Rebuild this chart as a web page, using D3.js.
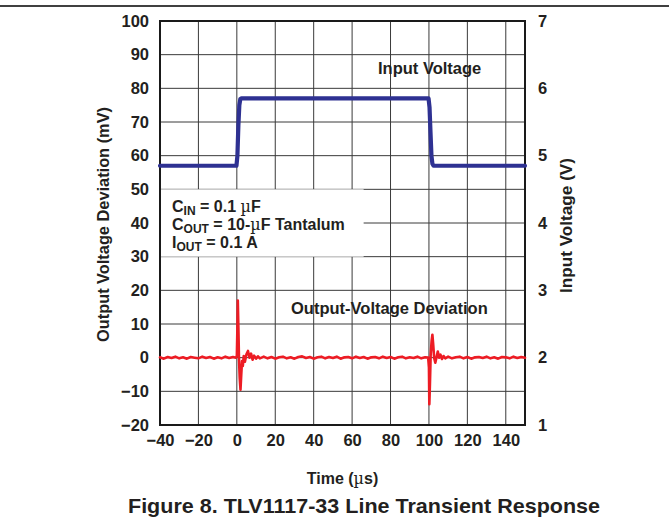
<!DOCTYPE html>
<html>
<head>
<meta charset="utf-8">
<script src="https://cdn.jsdelivr.net/npm/d3@7"></script>
<style>
  body { margin: 0; background: #fff; }
  text { font-family: "Liberation Sans", Arial, sans-serif; font-weight: bold; fill: #231f20; }
</style>
</head>
<body>
<div id="chart"></div>
<script>
// ticks
const timeTicks = [-40, -20, 0, 20, 40, 60, 80, 100, 120, 140];
const mvTicks = [-20, -10, 0, 10, 20, 30, 40, 50, 60, 70, 80, 90, 100];
const voltTicks = [1, 2, 3, 4, 5, 6, 7];

// input voltage (V) vs time (us)
const inTime = [-40, -0.2, 0.3, 0.8, 1.3, 1.8, 2.4, 99.8, 100.3, 100.8, 101.3, 101.8, 102.4, 150];
const inVolt = [4.85, 4.85, 5.0, 5.45, 5.75, 5.84, 5.85, 5.85, 5.72, 5.35, 5.0, 4.88, 4.85, 4.85];

// output voltage deviation (mV) vs time (us)
const outTime = [-40, -38, -36, -34, -32, -30, -28, -26, -24, -22, -20, -18, -16, -14, -12, -10, -8, -6, -4, -2, -0.5,
  0, 0.3, 0.5, 0.8, 1.1, 1.5, 1.9, 2.3, 2.7, 3.1, 3.6, 4.2, 5, 5.8, 6.6, 7.4, 8.2, 9, 10, 11, 12,
  14, 16, 18, 20, 22, 24, 26, 28, 30, 32, 34, 36, 38, 40, 42, 44, 46, 48, 50, 52, 54, 56, 58, 60,
  62, 64, 66, 68, 70, 72, 74, 76, 78, 80, 82, 84, 86, 88, 90, 92, 94, 96, 98, 99.6,
  100, 100.2, 100.5, 100.9, 101.4, 101.8, 102.2, 102.7, 103.3, 103.9, 104.6, 105.3, 106, 106.8, 107.6, 108.5,
  110, 112, 114, 116, 118, 120, 122, 124, 126, 128, 130, 132, 134, 136, 138, 140, 142, 144, 146, 148, 150];
const outDev = [0.1, -0.3, 0.2, -0.1, 0.3, -0.2, 0.1, -0.3, 0.2, 0, -0.2, 0.3, -0.1, 0.2, -0.3, 0.1, -0.2, 0.3, -0.1, 0.2, 0,
  0.5, 9, 17, 9, 0, -6, -9.5, -5, -1, -2.5, 0.5, -1.2, 1, 2, 0, 1.2, -0.6, 0.6, -0.3, 0.4, -0.2,
  0.3, -0.2, 0.2, -0.3, 0.1, 0.3, -0.2, 0.1, -0.3, 0.2, 0.4, -0.1, 0.2, -0.3, 0.1, 0.3, -0.2, 0.2, -0.1, 0.3, -0.3, 0.1, 0.2, -0.2,
  0.3, -0.1, 0.2, -0.3, 0.1, 0.2, -0.2, 0.3, -0.1, 0.2, -0.3, 0.1, 0.3, -0.2, 0.1, -0.1, 0.3, -0.2, 0.1, 0,
  -3, -13.8, -8, 1, 5, 6.8, 4, 0, -1.5, 0, 1.8, 0, 0.9, -0.4, 0.5, -0.2,
  0.3, -0.2, 0.1, 0.3, -0.2, 0.2, -0.3, 0.1, 0.2, -0.1, 0.3, -0.2, 0.1, -0.3, 0.2, 0.1, -0.2, 0.3, -0.1, 0.2, 0];

const W = 669, H = 527;
const pLeft = 160, pRight = 525, pTop = 21, pBottom = 425;
const fs = 16.5;

let svg = d3.select('#chart').append('svg')
  .attr('width', W)
  .attr('height', H);

// rule at the top of the page
svg.append('line')
  .attr('x1', 0).attr('x2', W)
  .attr('y1', 6).attr('y2', 6)
  .attr('stroke', '#000').attr('stroke-width', 1.5);

let x = d3.scaleLinear().domain([-40, 150]).range([pLeft, pRight]);
let yMv = d3.scaleLinear().domain([-20, 100]).range([pBottom, pTop]);
let yV = d3.scaleLinear().domain([1, 7]).range([pBottom, pTop]);

// grid
let grid = svg.append('g').attr('stroke', '#3a3a3a').attr('stroke-width', 1);
grid.selectAll('.vg').data(timeTicks).enter().append('line')
  .attr('x1', d => x(d)).attr('x2', d => x(d))
  .attr('y1', pTop).attr('y2', pBottom);
grid.selectAll('.hg').data(mvTicks).enter().append('line')
  .attr('x1', pLeft).attr('x2', pRight)
  .attr('y1', d => yMv(d)).attr('y2', d => yMv(d));

// box with the test conditions hides the grid behind it
svg.append('rect')
  .attr('x', pLeft).attr('y', yMv(50))
  .attr('width', x(66) - pLeft).attr('height', yMv(30) - yMv(50))
  .attr('fill', '#fff');

// frame
svg.append('rect')
  .attr('x', pLeft).attr('y', pTop)
  .attr('width', pRight - pLeft).attr('height', pBottom - pTop)
  .attr('fill', 'none').attr('stroke', '#1a1a1a').attr('stroke-width', 2);

// axes (labels only)
let axL = svg.append('g').attr('transform', 'translate(' + pLeft + ',0)')
  .call(d3.axisLeft(yMv).tickValues(mvTicks).tickSize(0).tickPadding(11));
let axR = svg.append('g').attr('transform', 'translate(' + pRight + ',0)')
  .call(d3.axisRight(yV).tickValues(voltTicks).tickFormat(d3.format('d')).tickSize(0).tickPadding(13));
let axB = svg.append('g').attr('transform', 'translate(0,' + pBottom + ')')
  .call(d3.axisBottom(x).tickValues(timeTicks).tickSize(0).tickPadding(9));
[axL, axR, axB].forEach(a => {
  a.select('.domain').remove();
  a.selectAll('text').attr('font-size', fs).attr('fill', '#231f20')
    .attr('font-family', '"Liberation Sans", Arial, sans-serif').attr('font-weight', 'bold');
});

// lines
let inLine = d3.line().x((d, i) => x(inTime[i])).y(d => yV(d));
svg.append('path')
  .attr('d', inLine(inVolt))
  .attr('fill', 'none').attr('stroke', '#2e3192').attr('stroke-width', 4.2)
  .attr('stroke-linejoin', 'round').attr('stroke-linecap', 'round');

let outLine = d3.line().x((d, i) => x(outTime[i])).y(d => yMv(d));
svg.append('path')
  .attr('d', outLine(outDev))
  .attr('fill', 'none').attr('stroke', '#ed1c24').attr('stroke-width', 2.6)
  .attr('stroke-linejoin', 'round').attr('stroke-linecap', 'round');

// axis titles
svg.append('text')
  .attr('transform', 'translate(109,' + 224.5 + ') rotate(-90)')
  .attr('text-anchor', 'middle').attr('font-size', 16)
  .attr('textLength', 235).attr('lengthAdjust', 'spacingAndGlyphs')
  .text('Output Voltage Deviation (mV)');
svg.append('text')
  .attr('transform', 'translate(572,' + 225.5 + ') rotate(-90)')
  .attr('text-anchor', 'middle').attr('font-size', 16)
  .attr('textLength', 135).attr('lengthAdjust', 'spacingAndGlyphs')
  .text('Input Voltage (V)');

let tt = svg.append('text')
  .attr('x', (pLeft + pRight) / 2).attr('y', 484)
  .attr('text-anchor', 'middle').attr('font-size', 16);
tt.append('tspan').text('Time (');
tt.append('tspan').attr('font-family', '"DejaVu Serif", serif').attr('font-weight', 'normal').text('µ');
tt.append('tspan').text('s)');

// curve labels
svg.append('text').attr('x', 378).attr('y', 74).attr('font-size', fs).text('Input Voltage');
svg.append('text').attr('x', 291).attr('y', 314).attr('font-size', fs).text('Output-Voltage Deviation');

// conditions
let cond = [
  { main: 'C', sub: 'IN', rest: ' = 0.1 ', mu: true, tail: 'F', y: 212 },
  { main: 'C', sub: 'OUT', rest: ' = 10-', mu: true, tail: 'F Tantalum', y: 230 },
  { main: 'I', sub: 'OUT', rest: ' = 0.1 A', mu: false, tail: '', y: 248 }
];
cond.forEach(c => {
  let t = svg.append('text').attr('x', 172).attr('y', c.y).attr('font-size', 16);
  t.append('tspan').text(c.main);
  t.append('tspan').attr('font-size', 12).attr('dy', 3).text(c.sub);
  t.append('tspan').attr('dy', -3).text(c.rest);
  if (c.mu) {
    t.append('tspan').attr('font-family', '"DejaVu Serif", serif').attr('font-weight', 'normal').text('µ');
    t.append('tspan').text(c.tail);
  }
});

// caption
svg.append('text')
  .attr('x', 364).attr('y', 513)
  .attr('text-anchor', 'middle').attr('font-size', 21)
  .attr('textLength', 472).attr('lengthAdjust', 'spacingAndGlyphs')
  .text('Figure 8. TLV1117-33 Line Transient Response');
</script>
</body>
</html>
